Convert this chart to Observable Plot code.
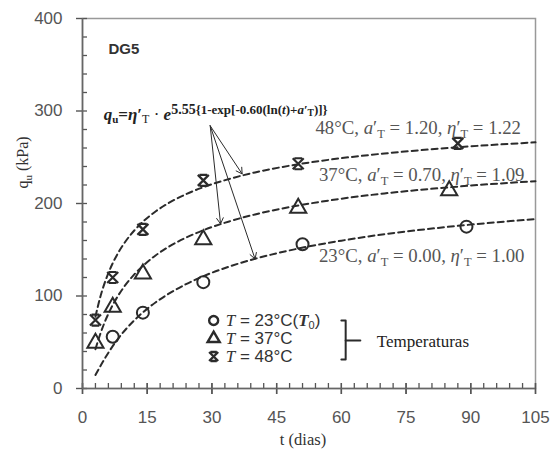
<!DOCTYPE html>
<html><head><meta charset="utf-8">
<script src="https://cdn.jsdelivr.net/npm/d3@7"></script>
<script src="https://cdn.jsdelivr.net/npm/@observablehq/plot@0.6"></script>
<style>body{margin:0;background:#fff}</style>
</head><body><div id="chart"></div>
<script>
// Measured points (t in days, qu in kPa)
const t23 = [7, 14, 28, 51, 89];
const q23 = [56, 82, 115, 156, 175];
const t37 = [3, 7, 14, 28, 50, 85];
const q37 = [49, 88, 124, 161, 195, 214];
const t48 = [3, 7, 14, 28, 50, 87];
const q48 = [74, 120, 172, 225, 243, 265];

// Fitted dashed curves
const curveT = [3, 4, 5, 6, 7, 8, 10, 12, 14, 17, 20, 24, 28, 34, 40, 50, 60, 70, 80, 90, 105];
const fit23 = [14.6, 23.0, 31.1, 38.7, 45.8, 52.3, 63.8, 73.7, 82.3, 93.3, 102.5, 112.8, 121.4, 131.8, 140.2, 151.3, 159.8, 166.8, 172.4, 177.2, 183.1];
const fit37 = [42.5, 57.3, 70.0, 80.8, 90.2, 98.4, 112.2, 123.3, 132.6, 144.1, 153.3, 163.1, 171.1, 180.6, 188.2, 197.8, 205.2, 210.9, 215.5, 219.4, 224.1];
const fit48 = [77.6, 96.8, 112.3, 124.8, 135.4, 144.4, 159.2, 170.8, 180.3, 191.6, 200.6, 210.1, 217.6, 226.5, 233.6, 242.4, 249.0, 254.1, 258.3, 261.8, 266.1];

// Ticks
const xMajor = [0, 15, 30, 45, 60, 75, 90, 105];
const xMinor = d3.range(0, 106, 3);
const yMajor = [0, 100, 200, 300, 400];
const yMinor = d3.range(0, 401, 20);

// Annotations (data coordinates)
const arrowFrom = [29.6, 284];
const arrowTo = [[37, 232], [32, 178], [40, 140]];
const curveLabels = [
  {key: "L48", x: 54.0, y: 281.5},
  {key: "L37", x: 54.8, y: 231},
  {key: "L23", x: 54.8, y: 143}
];
const legendRows = [
  {key: "G23", sym: "circle", y: 73.5},
  {key: "G37", sym: "triangle", y: 54},
  {key: "G48", sym: "star", y: 34.6}
];
const legendX = 30.4, legendTextX = 33.2;
const bracket = [[60, 73.5], [61, 73.5], [61, 31.4], [60, 31.4]];
const bracketTick = [[61, 51.9], [64.4, 51.9]];

const rows = (ts, qs) => ts.map((t, i) => ({t, q: qs[i]}));

const starSym = {
  draw(ctx, size) {
    const r = Math.sqrt(size / Math.PI);
    ctx.moveTo(-r, -r); ctx.lineTo(r, r);
    ctx.moveTo(r, -r); ctx.lineTo(-r, r);
    ctx.moveTo(-0.7 * r, -r); ctx.lineTo(0.7 * r, -r);
    ctx.moveTo(-0.7 * r, r); ctx.lineTo(0.7 * r, r);
  }
};
const symOf = {circle: "circle", triangle: "triangle", star: starSym};

const ink = "#2b2b2b";
const gray = "#555";
const serif = "'Liberation Serif', 'Times New Roman', serif";
const sans = "'Liberation Sans', Arial, sans-serif";
const blank = () => "";

const chart = Plot.plot({
  width: 553, height: 456,
  marginLeft: 82, marginRight: 18, marginTop: 18, marginBottom: 68,
  style: {fontFamily: sans, fontSize: "17px", color: gray, background: "#fff", overflow: "visible"},
  x: {domain: [0, 105]},
  y: {domain: [0, 400]},
  marks: [
    Plot.frame({stroke: "#999", strokeWidth: 1.5}),
    // inner minor ticks (axis shifted inward so ticks sit inside the frame)
    Plot.axisX({ticks: xMinor, tickSize: 5, dy: -5, tickFormat: blank, stroke: "#555", strokeWidth: 1.3, label: null}),
    Plot.axisY({ticks: yMinor, tickSize: 5, dx: 5, tickFormat: blank, stroke: "#555", strokeWidth: 1.3, label: null}),
    // major ticks crossing the axis line + labels
    Plot.axisX({ticks: xMajor, tickSize: 11, dy: -5, stroke: "#555", strokeWidth: 1.4, tickFormat: blank, label: null}),
    Plot.axisX({ticks: xMajor, tickSize: 6, tickPadding: 16, stroke: "#555", strokeWidth: 1.4, fill: gray, fontSize: 17, label: null}),
    Plot.axisY({ticks: yMajor, tickSize: 6, tickPadding: 14, stroke: "#555", strokeWidth: 1.4, fill: gray, fontSize: 17, label: null}),
    Plot.ruleY([0], {stroke: "#666", strokeWidth: 1.6}),
    Plot.ruleX([0], {stroke: "#666", strokeWidth: 1.6}),
    // fitted curves
    Plot.line(rows(curveT, fit23), {x: "t", y: "q", stroke: ink, strokeWidth: 2, strokeDasharray: "6,4", curve: "monotone-x"}),
    Plot.line(rows(curveT, fit37), {x: "t", y: "q", stroke: ink, strokeWidth: 2, strokeDasharray: "6,4", curve: "monotone-x"}),
    Plot.line(rows(curveT, fit48), {x: "t", y: "q", stroke: ink, strokeWidth: 2, strokeDasharray: "6,4", curve: "monotone-x"}),
    // data
    Plot.dot(rows(t23, q23), {x: "t", y: "q", r: 6, symbol: "circle", stroke: ink, strokeWidth: 2, fill: "none"}),
    Plot.dot(rows(t37, q37), {x: "t", y: "q", r: 6, symbol: "triangle", stroke: ink, strokeWidth: 2, fill: "none"}),
    Plot.dot(rows(t48, q48), {x: "t", y: "q", r: 5.5, symbol: starSym, stroke: ink, strokeWidth: 2.2, fill: "none"}),
    // arrows
    Plot.arrow(arrowTo, {x1: () => arrowFrom[0], y1: () => arrowFrom[1], x2: d => d[0], y2: d => d[1], stroke: ink, strokeWidth: 1, headLength: 10, bend: 0}),
    // text
    Plot.text(["DG5"], {x: 6, y: 367, text: d => d, textAnchor: "start", fontWeight: "bold", fontSize: 15, fill: "#333", fontFamily: sans}),
    Plot.text(["FORMULA"], {x: 4.9, y: 296, text: d => d, textAnchor: "start", fontSize: 17, fill: "#222", fontFamily: serif}),
    Plot.text(curveLabels, {x: "x", y: "y", text: "key", textAnchor: "start", fontSize: 18.8, fill: gray, fontFamily: serif}),
    Plot.dot(legendRows, {x: () => legendX, y: "y", r: 4.5, symbol: d => symOf[d.sym], stroke: ink, strokeWidth: 2.4, fill: "none"}),
    Plot.text(legendRows, {x: () => legendTextX, y: "y", text: "key", textAnchor: "start", fontSize: 17, fill: "#333", fontFamily: sans}),
    Plot.line(bracket, {x: d => d[0], y: d => d[1], stroke: ink, strokeWidth: 2}),
    Plot.line(bracketTick, {x: d => d[0], y: d => d[1], stroke: ink, strokeWidth: 2}),
    Plot.text(["Temperaturas"], {x: 68.2, y: 51, text: d => d, textAnchor: "start", fontSize: 17, fill: "#222", fontFamily: serif}),
    // axis titles
    Plot.text(["YLABEL"], {frameAnchor: "left", dx: -60, dy: -15, rotate: -90, text: d => d, fontSize: 16, fill: "#333", fontFamily: serif}),
    Plot.text(["t (dias)"], {frameAnchor: "bottom", dy: 56, dx: -6, text: d => d, fontSize: 16.5, fill: "#333", fontFamily: serif})
  ]
});

const sub = (s, fs, d) => `<tspan dy="${d}" font-size="${fs}">${s}</tspan>`;
const lbl = (T, a, e) => `${T}°C, <tspan font-style="italic">a</tspan>′${sub("T", 12.5, 4)}<tspan dy="-4"> = ${a}, </tspan><tspan font-style="italic">η</tspan>′${sub("T", 12.5, 4)}<tspan dy="-4"> = ${e}</tspan>`;
const leg = (txt) => `<tspan font-style="italic" font-family="'Liberation Serif', serif">T</tspan> = ${txt}`;
const rich = {
  L48: lbl(48, "1.20", "1.22"),
  L37: lbl(37, "0.70", "1.09"),
  L23: lbl(23, "0.00", "1.00"),
  G23: leg(`23°C(<tspan font-style="italic" font-weight="bold" font-family="'Liberation Serif', serif">T</tspan>${sub("0", 11, 3)}<tspan dy="-3">)</tspan>`),
  G37: leg("37°C"),
  G48: leg("48°C"),
  FORMULA: `<tspan font-weight="bold" font-style="italic">q</tspan><tspan font-weight="bold" dy="3" font-size="11">u</tspan><tspan dy="-3" font-weight="bold">=</tspan><tspan font-weight="bold" font-style="italic">η</tspan><tspan font-weight="bold">′</tspan><tspan dy="3" font-size="12">T</tspan><tspan dy="-3"> · </tspan><tspan font-weight="bold" font-style="italic">e</tspan><tspan dy="-6" font-weight="bold" font-size="14">5.55</tspan><tspan font-weight="bold" font-size="13">{1-exp[-0.60(ln(<tspan font-style="italic">t</tspan>)+<tspan font-style="italic">a</tspan>′<tspan dy="2" font-size="9.5">T</tspan><tspan dy="-2">)]}</tspan></tspan>`,
  YLABEL: `q<tspan dy="4" font-size="11">u</tspan><tspan dy="-4"> (kPa)</tspan>`
};
chart.querySelectorAll("text").forEach(el => {
  const k = el.textContent;
  if (rich[k]) el.innerHTML = rich[k];
});
document.getElementById("chart").append(chart);
</script>
</body></html>
